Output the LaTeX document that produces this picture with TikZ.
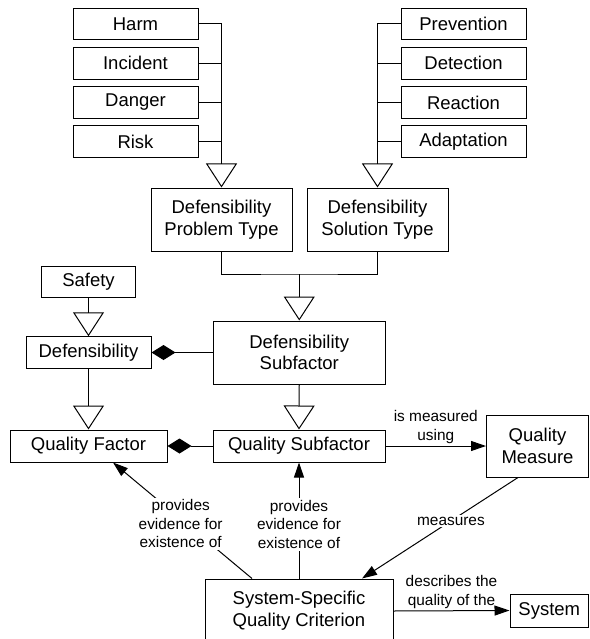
\documentclass[tikz,border=0pt]{standalone}
\usepackage{fontspec}
\setmainfont{Liberation Sans}
\usetikzlibrary{arrows.meta,calc}
\begin{document}
\begin{tikzpicture}[x=1pt,y=-1pt,line width=1pt,
  box/.style={draw,inner sep=0pt,align=center,font=\fontsize{18.5}{21.7}\selectfont},
  lbl/.style={align=center,font=\fontsize{15.4}{18.5}\selectfont,inner sep=2pt},
  gen/.style={-{Triangle[open,length=24pt,width=31pt]}},
  agg/.style={-{Diamond[length=24pt,width=15pt]}},
  arr/.style={-{Triangle[length=15pt,width=10pt]}}]
\useasboundingbox (0,0) rectangle (589,639);
% problem types
\node[box,minimum width=125pt,minimum height=31.5pt] (harm) at (135.5,24) {Harm};
\node[box,minimum width=125pt,minimum height=31.5pt] (incident) at (135.5,63.3) {Incident};
\node[box,minimum width=125pt,minimum height=31.5pt] (danger) at (135.5,102.5) {Danger};
\node[box,minimum width=125pt,minimum height=31.5pt] (risk) at (135.5,141.5) {Risk};
% solution types
\node[box,minimum width=125pt,minimum height=31.5pt] (prev) at (463.5,24) {Prevention};
\node[box,minimum width=125pt,minimum height=31.5pt] (detect) at (463.5,63.3) {Detection};
\node[box,minimum width=125pt,minimum height=31.5pt] (react) at (463.5,102.5) {Reaction};
\node[box,minimum width=125pt,minimum height=31.5pt] (adapt) at (463.5,141.5) {Adaptation};
\node[box,minimum width=141pt,minimum height=63pt] (pt) at (221.5,219.5) {Defensibility\\Problem Type};
\node[box,minimum width=141pt,minimum height=63pt] (st) at (377.5,219.5) {Defensibility\\Solution Type};
\node[box,minimum width=172.5pt,minimum height=63pt] (ds) at (299.25,352.5) {Defensibility\\Subfactor};
\node[box,minimum width=93.5pt,minimum height=31.5pt] (safety) at (88.5,282) {Safety};
\node[box,minimum width=125pt,minimum height=31.5pt] (def) at (88.5,352.5) {Defensibility};
\node[box,minimum width=157pt,minimum height=32pt] (qf) at (88.5,446) {Quality Factor};
\node[box,minimum width=172pt,minimum height=32pt] (qs) at (299,446) {Quality Subfactor};
\node[box,minimum width=102pt,minimum height=62pt] (qm) at (537.5,446) {Quality\\Measure};
\node[box,minimum width=188pt,minimum height=64pt] (ss) at (299,611) {System-Specific\\Quality Criterion};
\node[box,minimum width=78.5pt,minimum height=33pt] (sys) at (549.25,610.5) {System};
% generalizations
\draw[gen] (harm.east) -| (pt.north);
\draw (incident.east) -- (incident.east -| pt.north);
\draw (danger.east) -- (danger.east -| pt.north);
\draw (risk.east) -- (risk.east -| pt.north);
\draw[gen] (prev.west) -| (st.north);
\draw (detect.west) -- (detect.west -| st.north);
\draw (react.west) -- (react.west -| st.north);
\draw (adapt.west) -- (adapt.west -| st.north);
\coordinate (j) at (299.25,274);
\draw (pt.south) |- (j) -| (st.south);
\draw[gen] (j) -- (ds.north);
\draw[gen] (safety.south) -- (def.north);
\draw[gen] (def.south) -- (qf.north);
\draw[gen] (ds.south) -- (qs.north);
% aggregations
\draw[agg] (ds.west) -- (def.east);
\draw[agg] (qs.west) -- (qf.east);
% associations
\draw[arr] (qs.east) -- node[lbl,above] {is measured\\using} (qm.west);
\draw[arr] ($(ss.north)+(-47,0)$) -- node[lbl,fill=white,pos=0.47,xshift=-6pt] {provides\\evidence for\\existence of} ($(qf.south)+(24.5,0)$);
\draw[arr] (ss.north) -- node[lbl,fill=white,pos=0.466] {provides\\evidence for\\existence of} (qs.south);
\draw[arr] ($(qm.south)+(-19.5,0)$) -- node[lbl,fill=white,pos=0.43] {measures} ($(ss.north)+(63,0)$);
\draw[arr] (ss.east) -- node[lbl,above] {describes the\\quality of the} (sys.west);
\end{tikzpicture}
\end{document}
